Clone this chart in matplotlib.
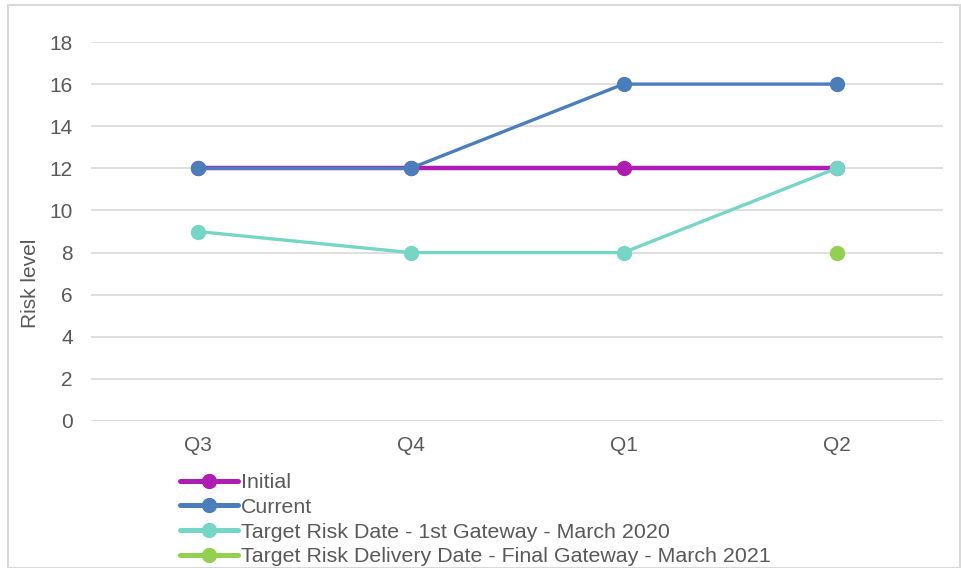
import matplotlib.pyplot as plt
from matplotlib.patches import Rectangle

plt.rcParams['font.family'] = ['Liberation Sans', 'DejaVu Sans']

quarters = ['Q3', 'Q4', 'Q1', 'Q2']
initial = [12, 12, 12, 12]
current = [12, 12, 16, 16]
target_first = [9, 8, 8, 12]
target_final = [None, None, None, 8]

labels = ['Initial', 'Current',
          'Target Risk Date - 1st Gateway - March 2020',
          'Target Risk Delivery Date - Final Gateway - March 2021']
colors = ['#AE1DB3', '#4A7EBB', '#75D6C6', '#92D050']

fig = plt.figure(figsize=(9.61, 5.68), dpi=100)
ax = fig.add_axes([91 / 961, 147 / 568, 852 / 961, 379 / 568])

x = list(range(len(quarters)))
series = [initial, current, target_first, target_final]
widths = [3.2, 2.4, 2.4, 2.4]
for vals, lab, col, lw in zip(series, labels, colors, widths):
    xs = [i for i, v in zip(x, vals) if v is not None]
    ys = [v for v in vals if v is not None]
    ax.plot(xs, ys, color=col, lw=lw, marker='o', markersize=10,
            label=lab, solid_capstyle='round')

ax.set_xlim(-0.5, 3.5)
ax.set_ylim(0, 18)
ax.set_yticks(range(0, 19, 2))
ax.set_xticks(x)
ax.set_xticklabels(quarters)
ax.grid(axis='y', color='#D9D9D9', lw=1.2)
ax.set_axisbelow(True)
for s in ax.spines.values():
    s.set_visible(False)
ax.tick_params(length=0, labelsize=15, colors='#595959')
ax.tick_params(axis='y', pad=13)
ax.tick_params(axis='x', pad=11)

fig.text(30 / 961, 1 - 283 / 568, 'Risk level', rotation=90, ha='center',
         va='center', fontsize=15, color='#595959')

leg = fig.legend(loc='upper left', bbox_to_anchor=(180 / 961, 1 - 473 / 568),
                 frameon=False, fontsize=15.4, labelcolor='#595959',
                 handlelength=2.7, handletextpad=0.15, labelspacing=0.27,
                 borderpad=0, borderaxespad=0)
for h in leg.legend_handles:
    h.set_linewidth(3.6)

fig.add_artist(Rectangle((8 / 961, 0), 952 / 961, 1 - 5 / 568,
                         transform=fig.transFigure, fill=False,
                         edgecolor='#D9D9D9', lw=1.5))

fig.savefig('out.png', dpi=100)
